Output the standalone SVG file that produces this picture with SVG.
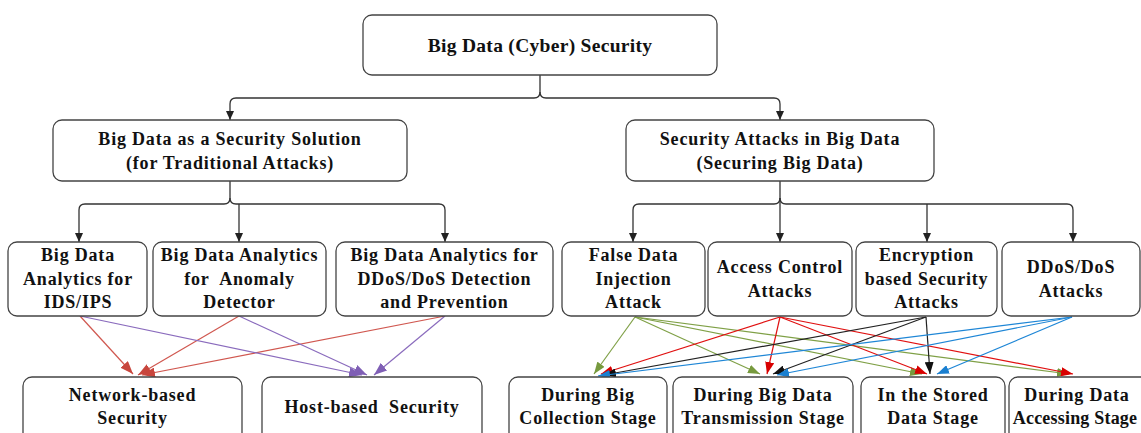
<svg xmlns="http://www.w3.org/2000/svg" width="1141" height="433" viewBox="0 0 1141 433">
<defs>
<style>
.box{fill:#fff;stroke:#444;stroke-width:1.3}
.t{font-family:"Liberation Serif","Times New Roman",serif;font-weight:bold;font-size:18px;letter-spacing:0.8px;fill:#111;text-anchor:middle}
.tt{font-size:19.5px;letter-spacing:0.3px}
.tree{fill:none;stroke:#333;stroke-width:1.3}
.e{fill:none;stroke-width:1.2}
.lr{stroke:#d0574f}
.pu{stroke:#8a6bbd}
.gr{stroke:#7fa046}
.rd{stroke:#e01010}
.bk{stroke:#222}
.bl{stroke:#1e86d6}
</style>
<marker id="mb" markerUnits="userSpaceOnUse" markerWidth="9" markerHeight="8" refX="9" refY="4" orient="auto"><path d="M0,0 L9,4 L0,8 z" fill="#222"/></marker>
<marker id="mlr" markerUnits="userSpaceOnUse" markerWidth="13" markerHeight="10" refX="13" refY="5" orient="auto"><path d="M0,0 L13,5 L0,10 z" fill="#c8463d"/></marker>
<marker id="mpu" markerUnits="userSpaceOnUse" markerWidth="13" markerHeight="10" refX="13" refY="5" orient="auto"><path d="M0,0 L13,5 L0,10 z" fill="#7f5fb5"/></marker>
<marker id="mgr" markerUnits="userSpaceOnUse" markerWidth="12" markerHeight="9" refX="12" refY="4.5" orient="auto"><path d="M0,0 L12,4.5 L0,9 z" fill="#779a3e"/></marker>
<marker id="mrd" markerUnits="userSpaceOnUse" markerWidth="12" markerHeight="9" refX="12" refY="4.5" orient="auto"><path d="M0,0 L12,4.5 L0,9 z" fill="#d80000"/></marker>
<marker id="mbk" markerUnits="userSpaceOnUse" markerWidth="12" markerHeight="9" refX="12" refY="4.5" orient="auto"><path d="M0,0 L12,4.5 L0,9 z" fill="#111"/></marker>
<marker id="mbl" markerUnits="userSpaceOnUse" markerWidth="12" markerHeight="9" refX="12" refY="4.5" orient="auto"><path d="M0,0 L12,4.5 L0,9 z" fill="#1a7fd0"/></marker>
</defs>
<rect width="1141" height="433" fill="#fff"/>

<g id="connectors">
<path class="tree" d="M540,75 V92 Q540,98 534,98 H236 Q230,98 230,104 V120" marker-end="url(#mb)"/>
<path class="tree" d="M540,92 Q540,98 546,98 H774 Q780,98 780,104 V120" marker-end="url(#mb)"/>
<path class="tree" d="M230,181 V198 Q230,204 224,204 H85 Q79,204 79,210 V242" marker-end="url(#mb)"/>
<path class="tree" d="M230,198 Q230,204 236,204 H439 Q445,204 445,210 V242" marker-end="url(#mb)"/>
<path class="tree" d="M239,204 V242" marker-end="url(#mb)"/>
<path class="tree" d="M780,181 V198 Q780,204 774,204 H639 Q633,204 633,210 V242" marker-end="url(#mb)"/>
<path class="tree" d="M780,198 Q780,204 786,204 H1067 Q1073,204 1073,210 V242" marker-end="url(#mb)"/>
<path class="tree" d="M780,198 V242" marker-end="url(#mb)"/>
<path class="tree" d="M927,204 V242" marker-end="url(#mb)"/>
<line class="e lr" x1="80" y1="316" x2="133" y2="374" marker-end="url(#mlr)"/>
<line class="e lr" x1="239" y1="316" x2="138" y2="375" marker-end="url(#mlr)"/>
<line class="e lr" x1="445" y1="316" x2="142" y2="375" marker-end="url(#mlr)"/>
<line class="e pu" x1="80" y1="316" x2="362" y2="375" marker-end="url(#mpu)"/>
<line class="e pu" x1="239" y1="316" x2="367" y2="375" marker-end="url(#mpu)"/>
<line class="e pu" x1="445" y1="316" x2="374" y2="375" marker-end="url(#mpu)"/>
<line class="e gr" x1="635" y1="317" x2="594" y2="374" marker-end="url(#mgr)"/>
<line class="e gr" x1="635" y1="317" x2="760" y2="374" marker-end="url(#mgr)"/>
<line class="e gr" x1="635" y1="317" x2="922" y2="374" marker-end="url(#mgr)"/>
<line class="e gr" x1="635" y1="317" x2="1069" y2="374" marker-end="url(#mgr)"/>
<line class="e rd" x1="780" y1="317" x2="601" y2="374" marker-end="url(#mrd)"/>
<line class="e rd" x1="780" y1="317" x2="767" y2="374" marker-end="url(#mrd)"/>
<line class="e rd" x1="780" y1="317" x2="927" y2="374" marker-end="url(#mrd)"/>
<line class="e rd" x1="780" y1="317" x2="1073" y2="374" marker-end="url(#mrd)"/>
<line class="e bk" x1="926" y1="317" x2="604" y2="375" marker-end="url(#mbk)"/>
<line class="e bk" x1="926" y1="317" x2="773" y2="374" marker-end="url(#mbk)"/>
<line class="e bk" x1="926" y1="317" x2="930" y2="374" marker-end="url(#mbk)"/>
<line class="e bl" x1="1072" y1="317" x2="598" y2="376" marker-end="url(#mbl)"/>
<line class="e bl" x1="1072" y1="317" x2="777" y2="375" marker-end="url(#mbl)"/>
<line class="e bl" x1="1072" y1="317" x2="937" y2="374" marker-end="url(#mbl)"/>
</g>

<g id="root"><rect class="box" x="363" y="15" width="354" height="60" rx="9"/>
<text class="t tt" x="540" y="52">Big Data (Cyber) Security</text></g>

<g id="solution"><rect class="box" x="53" y="120" width="354" height="61" rx="9"/>
<text class="t" x="230" y="145">Big Data as a Security Solution</text>
<text class="t" x="230" y="169">(for Traditional Attacks)</text></g>

<g id="attacks"><rect class="box" x="626" y="120" width="308" height="61" rx="9"/>
<text class="t" x="780" y="145">Security Attacks in Big Data</text>
<text class="t" x="780" y="169">(Securing Big Data)</text></g>

<g id="ids"><rect class="box" x="8" y="242" width="139" height="74" rx="9"/>
<text class="t" x="78" y="261">Big Data</text>
<text class="t" x="78" y="284.5">Analytics for</text>
<text class="t" x="78" y="308">IDS/IPS</text></g>

<g id="anomaly"><rect class="box" x="153" y="242" width="173" height="74" rx="9"/>
<text class="t" x="239.5" y="261">Big Data Analytics</text>
<text class="t" x="239.5" y="284.5">for&#160; Anomaly</text>
<text class="t" x="239.5" y="308">Detector</text></g>

<g id="ddosdet"><rect class="box" x="336" y="242" width="217" height="74" rx="9"/>
<text class="t" x="444.5" y="261">Big Data Analytics for</text>
<text class="t" x="444.5" y="284.5">DDoS/DoS Detection</text>
<text class="t" x="444.5" y="308">and Prevention</text></g>

<g id="falsedata"><rect class="box" x="562" y="242" width="143" height="74" rx="9"/>
<text class="t" x="633.5" y="261">False Data</text>
<text class="t" x="633.5" y="284.5">Injection</text>
<text class="t" x="633.5" y="308">Attack</text></g>

<g id="access"><rect class="box" x="708" y="242" width="144" height="74" rx="9"/>
<text class="t" x="780" y="273">Access Control</text>
<text class="t" x="780" y="297">Attacks</text></g>

<g id="encryption"><rect class="box" x="856" y="242" width="141" height="74" rx="9"/>
<text class="t" x="926.5" y="261">Encryption</text>
<text class="t" x="926.5" y="284.5">based Security</text>
<text class="t" x="926.5" y="308">Attacks</text></g>

<g id="ddosatt"><rect class="box" x="1002" y="242" width="138" height="74" rx="9"/>
<text class="t" x="1071" y="273">DDoS/DoS</text>
<text class="t" x="1071" y="297">Attacks</text></g>

<g id="network"><rect class="box" x="23" y="377" width="219" height="70" rx="9"/>
<text class="t" x="132.5" y="401">Network-based</text>
<text class="t" x="132.5" y="424">Security</text></g>

<g id="host"><rect class="box" x="262" y="377" width="220" height="70" rx="9"/>
<text class="t" x="372" y="413">Host-based&#160; Security</text></g>

<g id="collection"><rect class="box" x="509" y="377" width="158" height="70" rx="9"/>
<text class="t" x="588" y="401">During Big</text>
<text class="t" x="588" y="424">Collection Stage</text></g>

<g id="transmission"><rect class="box" x="673" y="377" width="180" height="70" rx="9"/>
<text class="t" x="763" y="401">During Big Data</text>
<text class="t" x="763" y="424">Transmission Stage</text></g>

<g id="stored"><rect class="box" x="861" y="377" width="144" height="70" rx="9"/>
<text class="t" x="933" y="401">In the Stored</text>
<text class="t" x="933" y="424">Data Stage</text></g>

<g id="accessing"><rect class="box" x="1009" y="377" width="143" height="70" rx="9"/>
<text class="t" x="1077" y="401">During Data</text>
<text class="t" x="1075" y="424" style="letter-spacing:0.2px">Accessing Stage</text></g>
</svg>
